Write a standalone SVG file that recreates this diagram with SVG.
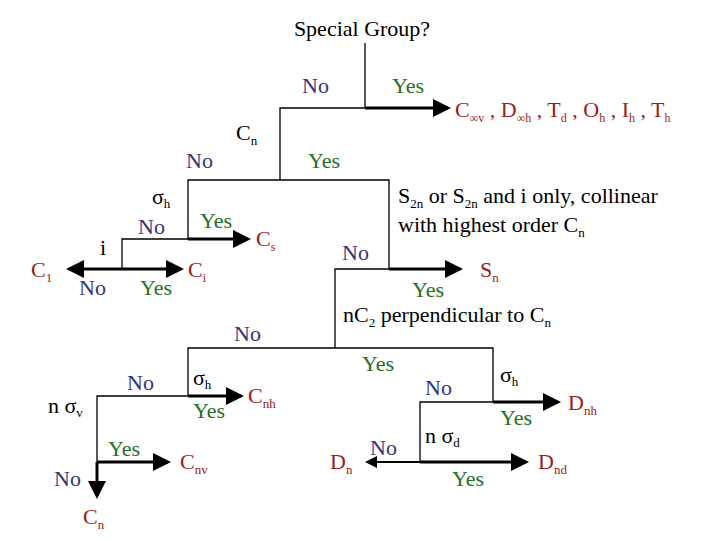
<svg xmlns="http://www.w3.org/2000/svg" width="720" height="540" viewBox="0 0 720 540" font-family="'Liberation Serif','DejaVu Serif',serif">
<defs><marker id="ah" markerWidth="6" markerHeight="6" refX="5" refY="3" orient="auto" markerUnits="strokeWidth"><path d="M0,0 L6,3 L0,6 Z" fill="#000"/></marker></defs>
<style>
text{font-family:'Liberation Serif','DejaVu Serif',serif;font-size:22px}
.r{fill:#a01c1c}.n{fill:#34347e}.g{fill:#257025}.k{fill:#000}
.t{stroke:#000;stroke-width:1.3;fill:none}
.a{stroke:#000;stroke-width:3;fill:none;marker-end:url(#ah)}
</style>
<rect width="720" height="540" fill="#fff"/>
<g id="connectors">
<path class="t" d="M365,43V108H280V180M188,239V180H389V269M122,269V239H188M335,348V269H389M97,462V396H188V348H493V402H420V462"/>
<line class="a" x1="365" y1="108" x2="448" y2="108"/>
<line class="a" x1="188" y1="239" x2="248" y2="239"/>
<line class="a" x1="122" y1="269" x2="69" y2="269"/>
<line class="a" x1="122" y1="269" x2="181" y2="269"/>
<line class="a" x1="389" y1="269" x2="460" y2="269"/>
<line class="a" x1="188" y1="396" x2="241" y2="396"/>
<line class="a" x1="97" y1="462" x2="168" y2="462"/>
<line class="a" x1="97" y1="462" x2="97" y2="496"/>
<line class="a" x1="493" y1="402" x2="558" y2="402"/>
<line class="a" x1="420" y1="462" x2="367" y2="462" style="stroke-width:2"/>
<line class="a" x1="420" y1="462" x2="526" y2="462"/>
</g>
<g id="q-special"><text class="k" x="362" y="36" text-anchor="middle">Special Group?</text></g>
<g id="labels1"><text class="n" x="302" y="93">No</text><text class="g" x="392" y="93">Yes</text></g>
<g id="r-special"><text class="r" x="455" y="117">C<tspan font-size="12" dy="5">∞v</tspan><tspan dy="-5"> , D</tspan><tspan font-size="12" dy="5">∞h</tspan><tspan dy="-5"> , T</tspan><tspan font-size="12" dy="5">d</tspan><tspan dy="-5"> , O</tspan><tspan font-size="12" dy="5">h</tspan><tspan dy="-5"> , I</tspan><tspan font-size="12" dy="5">h</tspan><tspan dy="-5"> , T</tspan><tspan font-size="12" dy="5">h</tspan></text></g>
<g id="q-cn"><text class="k" x="236" y="140">C<tspan font-size="13" dy="5">n</tspan></text>
<text class="n" x="186" y="168">No</text><text class="g" x="308" y="168">Yes</text></g>
<g id="q-sigmah1"><text class="k" x="152" y="204">σ<tspan font-size="13" dy="4">h</tspan></text>
<text class="n" x="138" y="234">No</text><text class="g" x="200" y="228">Yes</text>
<text class="r" x="256" y="246">C<tspan font-size="12" dy="5">s</tspan></text></g>
<g id="q-i"><text class="k" x="100" y="255">i</text>
<text class="r" x="31" y="277">C<tspan font-size="13" dy="5">1</tspan></text>
<text class="r" x="188" y="277">C<tspan font-size="12" dy="5">i</tspan></text>
<text class="n" x="79" y="295">No</text><text class="g" x="140" y="295">Yes</text></g>
<g id="q-s2n"><text class="k" x="398" y="203">S<tspan font-size="13" dy="5">2n</tspan><tspan dy="-5"> or S</tspan><tspan font-size="13" dy="5">2n</tspan><tspan dy="-5"> and i only, collinear</tspan></text>
<text class="k" x="398" y="232">with highest order C<tspan font-size="13" dy="5">n</tspan></text>
<text class="n" x="342" y="260">No</text><text class="g" x="412" y="297">Yes</text>
<text class="r" x="480" y="277">S<tspan font-size="13" dy="5">n</tspan></text></g>
<g id="q-nc2"><text class="k" x="343" y="322">nC<tspan font-size="13" dy="5">2</tspan><tspan dy="-5"> perpendicular to C</tspan><tspan font-size="13" dy="5">n</tspan></text>
<text class="n" x="234" y="341">No</text><text class="g" x="362" y="371">Yes</text></g>
<g id="q-sigmah2"><text class="k" x="193" y="385">σ<tspan font-size="13" dy="4">h</tspan></text>
<text class="n" x="127" y="390">No</text><text class="g" x="193" y="418">Yes</text>
<text class="r" x="248" y="403">C<tspan font-size="13" dy="5">nh</tspan></text></g>
<g id="q-nsv"><text class="k" x="48" y="413">n σ<tspan font-size="13" dy="4">v</tspan></text>
<text class="g" x="108" y="456">Yes</text><text class="r" x="180" y="469">C<tspan font-size="13" dy="5">nv</tspan></text>
<text class="n" x="54" y="486">No</text><text class="r" x="83" y="524">C<tspan font-size="13" dy="5">n</tspan></text></g>
<g id="q-sigmah3"><text class="k" x="500" y="382">σ<tspan font-size="13" dy="4">h</tspan></text>
<text class="n" x="425" y="395">No</text><text class="g" x="500" y="425">Yes</text>
<text class="r" x="568" y="410">D<tspan font-size="13" dy="5">nh</tspan></text></g>
<g id="q-nsd"><text class="k" x="425" y="443">n σ<tspan font-size="13" dy="4">d</tspan></text>
<text class="n" x="370" y="455">No</text><text class="g" x="452" y="486">Yes</text>
<text class="r" x="330" y="469">D<tspan font-size="13" dy="5">n</tspan></text>
<text class="r" x="538" y="469">D<tspan font-size="13" dy="5">nd</tspan></text></g>
</svg>
